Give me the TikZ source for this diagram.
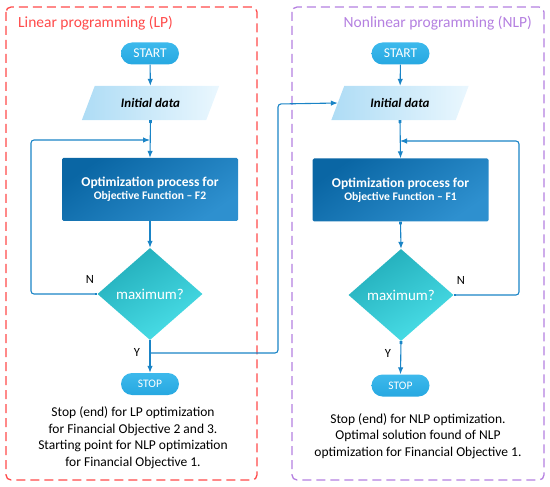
\documentclass[tikz,border=0pt]{standalone}
\usepackage{fontspec}
\setmainfont{Carlito}
\usetikzlibrary{arrows.meta, shapes.geometric, shapes.misc, calc, backgrounds}
\definecolor{lpred}{HTML}{FF4A4A}
\definecolor{nlpviolet}{HTML}{B47FE0}
\definecolor{wire}{HTML}{1A84C6}
\definecolor{pill}{HTML}{27A8E1}
\definecolor{pilllight}{HTML}{3DB9EC}
\definecolor{procdark}{HTML}{0A66A4}
\definecolor{proclight}{HTML}{2E90CF}
\definecolor{datadark}{HTML}{AEDCF5}
\definecolor{datalight}{HTML}{EAF7FE}
\definecolor{tealdark}{HTML}{22ADBA}
\definecolor{teallight}{HTML}{4ADFE8}
\tikzset{
  font=\fontsize{13.5}{16.5}\selectfont,
  %
  frame/.style={line width=1.3pt, dash pattern=on 9pt off 5pt, rounded corners=5pt},
  title/.style={font=\fontsize{15.5}{18}\selectfont, inner sep=0pt},
  %
  terminal/.style={rounded rectangle, minimum width=58pt, minimum height=22pt,
                   inner sep=0pt, text=white, top color=pilllight, bottom color=pill,
                   draw=none},
  iodata/.style={rectangle, minimum width=124pt, minimum height=34pt, inner sep=0pt,
                 font=\fontsize{13}{15}\selectfont\bfseries\itshape},
  iofill/.style={left color=datadark, right color=datalight},
  process/.style={rectangle, rounded corners=1.5pt, minimum width=176pt, minimum height=63pt,
                  inner sep=0pt, align=center, text=white, font=\bfseries,
                  shading=axis, top color=procdark, bottom color=proclight, shading angle=35},
  decision/.style={diamond, minimum width=105pt, minimum height=92pt, inner sep=0pt,
                   text=white, font=\fontsize{15}{17}\selectfont,
                   shading=axis, top color=tealdark, bottom color=teallight, shading angle=30},
  %
  flow/.style={draw=wire, line width=1.1pt, -{Latex[length=7pt, width=5.5pt]}},
  flowdot/.style={flow, {Square[length=2.6pt, width=2.6pt]}-{Latex[length=7pt, width=5.5pt]}},
  yn/.style={font=\fontsize{12.5}{14}\selectfont, inner sep=0pt},
  note/.style={align=center, inner sep=0pt},
}
% slanted input box behind a data node
\newcommand{\iobox}[1]{%
  \begin{scope}[on background layer]
    \shade[iofill] ($(#1.south west)+(-6.5,0)$) -- ($(#1.south east)+(-6.5,0)$)
      -- ($(#1.north east)+(6.5,0)$) -- ($(#1.north west)+(6.5,0)$) -- cycle;
  \end{scope}}
\begin{document}
\begin{tikzpicture}[x=1pt, y=-1pt]

  \useasboundingbox (0,0) rectangle (550,487);

  % the two frames
  \draw[frame, draw=lpred]     (6,7)   rectangle (257,480);
  \draw[frame, draw=nlpviolet] (292,7) rectangle (544,480);
  \node[title, text=lpred, anchor=west]     (lptitle)  at (18,23)  {Linear programming (LP)};
  \node[title, text=nlpviolet, anchor=east] (nlptitle) at (532,23) {Nonlinear programming (NLP)};

  % LP column
  \node[terminal] (start1) at (150,53.5) {START};
  \node[iodata]   (data1)  at (150.5,103) {Initial data};
  \iobox{data1}
  \node[process]  (proc1)  at (150,189.5)
    {{\fontsize{13.5}{16}\selectfont Optimization process for}\\[1pt]
     {\fontsize{11.6}{13}\selectfont Objective Function -- F2}};
  \node[decision] (dec1)   at (150,294) {maximum?};
  \node[terminal, font=\fontsize{11.5}{12}\selectfont] (stop1) at (150,384) {STOP};
  \node[note] (text1) at (133,437.5)
    {Stop (end) for LP optimization\\for Financial Objective 2 and 3.\\
     Starting point for NLP optimization\\for Financial Objective 1.};

  \coordinate (join1) at (150,140);
  \coordinate (back1) at (31,140);
  \coordinate (yes1)  at (150,353);
  \coordinate (bridge) at (278,104);

  \draw[flow] (start1) -- (data1);
  \draw[flowdot] (data1.south) -- (proc1.north);
  \draw[flowdot] (proc1.south) -- (dec1.north);
  \draw[flowdot, rounded corners=3pt] (dec1.west) -| (back1) -- (join1);
  \draw[flowdot] (dec1.south) -- (stop1.north);
  \node[yn] (n1) at (90,279) {N};
  \node[yn] (y1) at (137,352) {Y};

  % NLP column
  \node[terminal] (start2) at (400.5,53.5) {START};
  \node[iodata]   (data2)  at (400,103) {Initial data};
  \iobox{data2}
  \node[process]  (proc2)  at (400.5,190)
    {{\fontsize{13.5}{16}\selectfont Optimization process for}\\[1pt]
     {\fontsize{11.6}{13}\selectfont Objective Function -- F1}};
  \node[decision] (dec2)   at (401,295) {maximum?};
  \node[terminal, font=\fontsize{11.5}{12}\selectfont] (stop2) at (400.5,385.5) {STOP};
  \node[note] (text2) at (418,436)
    {Stop (end) for NLP optimization.\\Optimal solution found of NLP\\
     optimization for Financial Objective 1.};

  \coordinate (join2) at (400,141);
  \coordinate (back2) at (519,141);

  \draw[flow] (start2) -- (data2);
  \draw[flowdot] (data2.south) -- (proc2.north);
  \draw[flowdot] (proc2.south) -- (dec2.north);
  \draw[flowdot, rounded corners=3pt] (dec2.east) -| (back2) -- (join2);
  \draw[flowdot] (dec2.south) -- (stop2.north);
  \node[yn] (n2) at (461,280) {N};
  \node[yn] (y2) at (388,353) {Y};

  % hand-over from LP to NLP
  \fill[wire] ($(yes1)+(-1.4,-1.4)$) rectangle ($(yes1)+(1.4,1.4)$);
  \draw[flow, rounded corners=3pt] (yes1) -| (bridge) -- (data2.west);

\end{tikzpicture}
\end{document}
